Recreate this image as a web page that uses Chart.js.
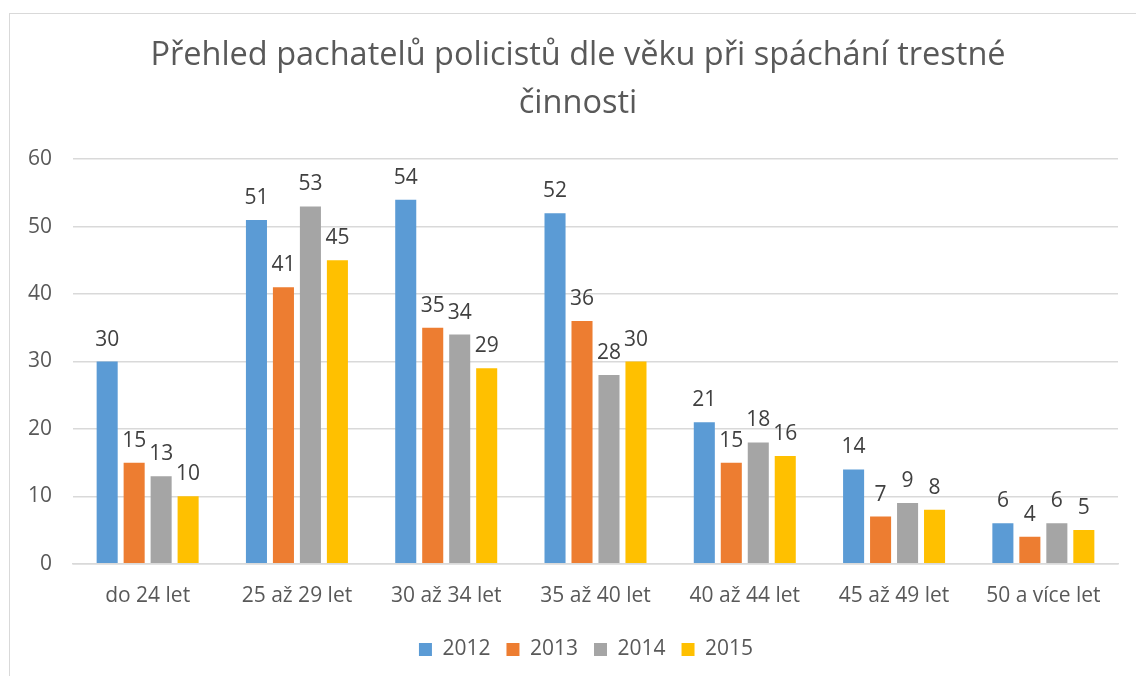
<!DOCTYPE html>
<html>
<head>
<meta charset="utf-8">
<script src="https://cdn.jsdelivr.net/npm/chart.js@4"></script>
<style>
  html, body { margin: 0; padding: 0; background: #fff; overflow: hidden; }
  #wrap { position: relative; width: 1136px; height: 676px; }
  #frame { position: absolute; left: 9px; top: 13px; width: 1140px; height: 700px; border: 1px solid #d9d9d9; box-sizing: border-box; }
  canvas { position: absolute; left: 0; top: 0; }
</style>
</head>
<body>
<div id="wrap">
  <div id="frame"></div>
  <canvas id="chart" width="1136" height="676"></canvas>
</div>
<script>
// ===== Data =====
const categories = ["do 24 let", "25 až 29 let", "30 až 34 let", "35 až 40 let", "40 až 44 let", "45 až 49 let", "50 a více let"];
const years = ["2012", "2013", "2014", "2015"];
const values2012 = [30, 51, 54, 52, 21, 14, 6];
const values2013 = [15, 41, 35, 36, 15, 7, 4];
const values2014 = [13, 53, 34, 28, 18, 9, 6];
const values2015 = [10, 45, 29, 30, 16, 8, 5];
const colors = ["#5B9BD5", "#ED7D31", "#A5A5A5", "#FFC000"];

const FONT = "'Open Sans', sans-serif";

// ===== Value labels above bars =====
const valueLabels = {
  id: "valueLabels",
  afterDatasetsDraw(chart) {
    const ctx = chart.ctx;
    ctx.save();
    ctx.font = "21px " + FONT;
    ctx.fillStyle = "#404040";
    ctx.textAlign = "center";
    ctx.textBaseline = "alphabetic";
    chart.data.datasets.forEach((ds, i) => {
      chart.getDatasetMeta(i).data.forEach((bar, j) => {
        ctx.fillText(ds.data[j], bar.x, bar.y - 16);
      });
    });
    ctx.restore();
  }
};

// title and legend are centred on the whole frame, which runs past the right edge
const shiftBlocks = {
  id: "shiftBlocks",
  afterLayout(chart) {
    if (chart.titleBlock) { chart.titleBlock.left += 18; chart.titleBlock.width -= 18; }
    if (chart.legend) { chart.legend.left += 34; chart.legend.width -= 34; }
  }
};

const seriesData = [values2012, values2013, values2014, values2015];

new Chart(document.getElementById("chart"), {
  type: "bar",
  data: {
    labels: categories,
    datasets: years.map((y, i) => ({
      label: y,
      data: seriesData[i],
      backgroundColor: colors[i],
      categoryPercentage: 0.723,
      barPercentage: 0.78
    }))
  },
  options: {
    responsive: false,
    animation: false,
    layout: { padding: { left: 20, right: 18, top: 22, bottom: 6 } },
    plugins: {
      title: {
        display: true,
        text: ["Přehled pachatelů policistů dle věku při spáchání trestné", "činnosti"],
        color: "#595959",
        font: { family: FONT, size: 32.5, weight: "normal", lineHeight: 1.48 },
        padding: { top: 10, bottom: 31 }
      },
      legend: {
        position: "bottom",
        labels: {
          color: "#595959",
          font: { family: FONT, size: 21 },
          boxWidth: 13,
          boxHeight: 13,
          padding: 16
        }
      },
      tooltip: { enabled: false }
    },
    scales: {
      x: {
        grid: { display: false },
        border: { color: "#d9d9d9", width: 1.5 },
        ticks: { color: "#595959", font: { family: FONT, size: 21 }, padding: 12 },
        afterFit(scale) { scale.height += 2; }
      },
      y: {
        min: 0,
        max: 60,
        ticks: { stepSize: 10, color: "#595959", font: { family: FONT, size: 21 }, padding: 21 },
        grid: { color: "#d9d9d9", lineWidth: 1.5, drawTicks: false },
        border: { display: false },
        afterFit(scale) { scale.width = 53; }
      }
    }
  },
  plugins: [valueLabels, shiftBlocks]
});
</script>
</body>
</html>
